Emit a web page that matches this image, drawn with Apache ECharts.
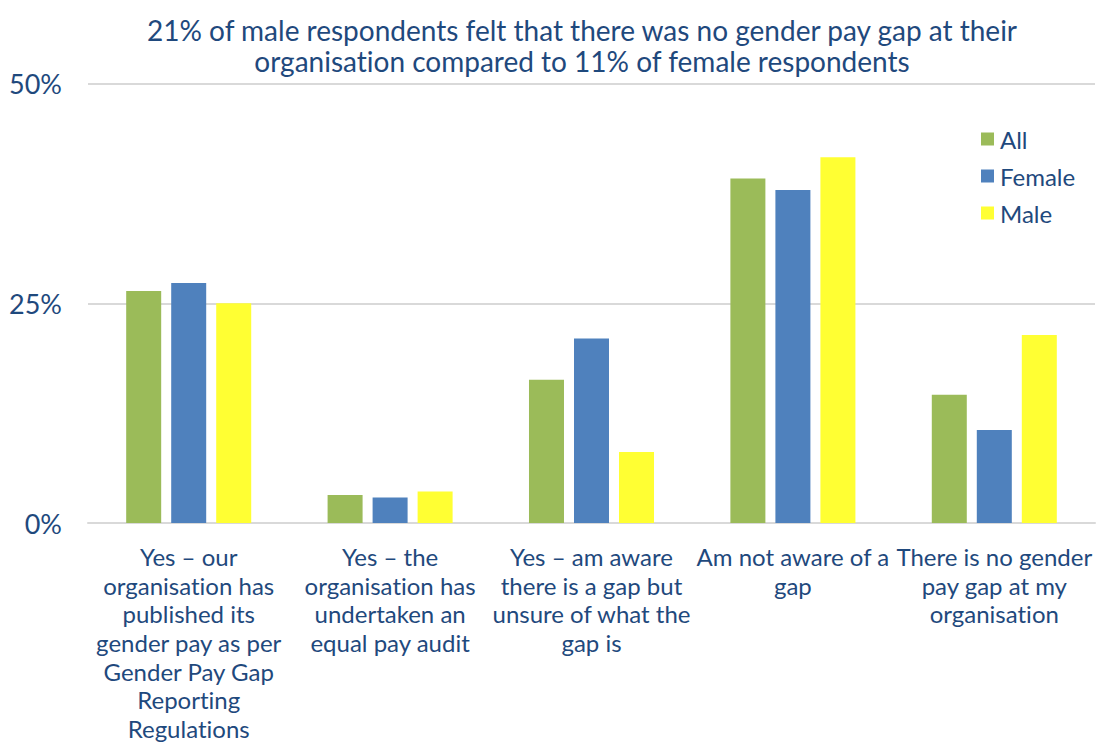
<!DOCTYPE html>
<html>
<head>
<meta charset="utf-8">
<script src="https://cdn.jsdelivr.net/npm/echarts@6/dist/echarts.min.js"></script>
<style>
  html, body { margin: 0; padding: 0; background: #fff; }
  #chart { width: 1101px; height: 743px; }
  #chart text { font-variant-ligatures: none; font-feature-settings: "liga" 0; }
</style>
</head>
<body>
<div id="chart"></div>
<script>
// Survey answers, one group of bars per answer
const categories = [
  'Yes – our\norganisation has\npublished its\ngender pay as per\nGender Pay Gap\nReporting\nRegulations',
  'Yes – the\norganisation has\nundertaken an\nequal pay audit',
  'Yes – am aware\nthere is a gap but\nunsure of what the\ngap is',
  'Am not aware of a\ngap',
  'There is no gender\npay gap at my\norganisation'
];
const seriesNames = ['All', 'Female', 'Male'];
// Share of respondents (%)
const allValues    = [26.4, 3.2, 16.3, 39.2, 14.6];
const femaleValues = [27.3, 2.9, 21.0, 37.9, 10.6];
const maleValues   = [25.0, 3.6, 8.1, 41.6, 21.4];
const yTicks = [0, 25, 50];

const textBlue = '#1F497D';
const colors = ['#9BBB59', '#4F81BD', '#FFFF33'];
const font = 'Lato, "Open Sans", sans-serif';

const chart = echarts.init(document.getElementById('chart'), null, { renderer: 'svg' });
chart.setOption({
  animation: false,
  backgroundColor: '#ffffff',
  textStyle: { fontFamily: font },
  title: {
    text: '21% of male respondents felt that there was no gender pay gap at their\norganisation compared to 11% of female respondents',
    left: 577,
    top: 9,
    textAlign: 'center',
    textStyle: { fontFamily: font, fontSize: 28, fontWeight: 'normal', color: textBlue, lineHeight: 31 }
  },
  legend: {
    data: seriesNames,
    orient: 'vertical',
    left: 976,
    top: 122,
    itemWidth: 13,
    itemHeight: 13,
    itemGap: 13,
    icon: 'rect',
    textStyle: { fontFamily: font, fontSize: 24, color: textBlue, padding: [0, 0, 0, 1] }
  },
  grid: { left: 88, right: 6, top: 83.5, bottom: 216.5, containLabel: false },
  xAxis: {
    type: 'category',
    data: categories,
    axisLine: { show: true, lineStyle: { color: '#D9D9D9', width: 2 } },
    axisTick: { show: false },
    axisLabel: {
      interval: 0,
      margin: 19,
      fontFamily: font,
      fontSize: 24,
      lineHeight: 28.7,
      color: textBlue,
      align: 'center'
    }
  },
  yAxis: {
    type: 'value',
    min: yTicks[0],
    max: yTicks[yTicks.length - 1],
    interval: yTicks[1] - yTicks[0],
    axisLine: { show: false },
    axisTick: { show: false },
    splitLine: { lineStyle: { color: '#D9D9D9', width: 2 } },
    axisLabel: {
      margin: 26,
      fontFamily: font,
      fontSize: 27,
      color: textBlue,
      formatter: v => v + '%'
    }
  },
  series: [
    { name: seriesNames[0], type: 'bar', data: allValues, itemStyle: { color: colors[0] }, barWidth: 35, barGap: '28.6%' },
    { name: seriesNames[1], type: 'bar', data: femaleValues, itemStyle: { color: colors[1] }, barWidth: 35, barGap: '28.6%' },
    { name: seriesNames[2], type: 'bar', data: maleValues, itemStyle: { color: colors[2] }, barWidth: 35, barGap: '28.6%' }
  ]
});
</script>
</body>
</html>
